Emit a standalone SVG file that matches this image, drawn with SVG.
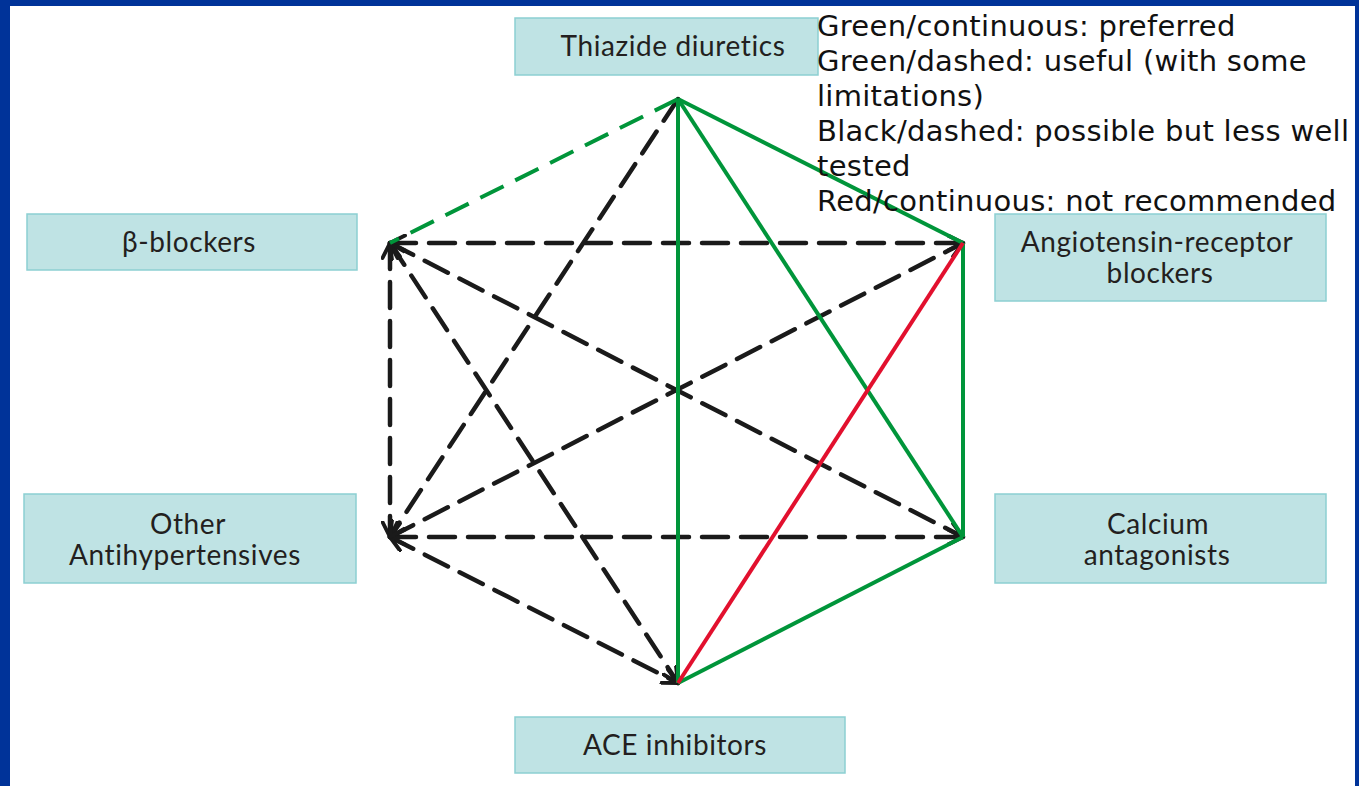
<svg xmlns="http://www.w3.org/2000/svg" width="1359" height="786" viewBox="0 0 1359 786">
<style>
.box{fill:#bfe3e4;stroke:#8ccfd2;stroke-width:1.5}
.lbl{font-family:Lato,"Liberation Sans",sans-serif;font-size:28px;letter-spacing:0.6px;fill:#231f20;text-anchor:middle}
.leg{font-family:"DejaVu Sans",Verdana,sans-serif;font-size:29px;letter-spacing:0.3px;fill:#111}
.gs{stroke:#00953a;stroke-width:4;fill:none}
.gd{stroke:#00953a;stroke-width:4;fill:none;stroke-dasharray:26 13}
.rs{stroke:#e2102e;stroke-width:4;fill:none}
.bd{stroke:#1a1a1a;stroke-width:4.5;fill:none;stroke-dasharray:26 13;stroke-linecap:round}
</style>
<defs>
<marker id="ah" viewBox="0 0 12 12" refX="11" refY="6" markerWidth="4" markerHeight="4" orient="auto-start-reverse" markerUnits="strokeWidth">
<path d="M1,1 L11,6 L1,11" fill="none" stroke="#1a1a1a" stroke-width="2.6" stroke-linecap="round" stroke-linejoin="round"/>
</marker>
</defs>
<rect x="0" y="0" width="1359" height="786" fill="#ffffff"/>
<rect x="0" y="0" width="1359" height="6" fill="#003399"/>
<rect x="0" y="0" width="10" height="786" fill="#003399"/>
<rect x="1355" y="0" width="4" height="786" fill="#003399"/>
<g id="connectors">
<line class="bd" x1="390" y1="243" x2="963" y2="243" marker-start="url(#ah)" marker-end="url(#ah)"/>
<line class="bd" x1="390" y1="243" x2="390" y2="537" marker-start="url(#ah)" marker-end="url(#ah)"/>
<line class="bd" x1="390" y1="243" x2="963" y2="537" marker-start="url(#ah)" marker-end="url(#ah)"/>
<line class="bd" x1="390" y1="243" x2="678" y2="683" marker-start="url(#ah)" marker-end="url(#ah)"/>
<line class="bd" x1="390" y1="537" x2="963" y2="243" marker-start="url(#ah)" marker-end="url(#ah)"/>
<line class="bd" x1="390" y1="537" x2="963" y2="537" marker-start="url(#ah)" marker-end="url(#ah)"/>
<line class="bd" x1="390" y1="537" x2="678" y2="683" marker-start="url(#ah)" marker-end="url(#ah)"/>
<line class="bd" x1="678" y1="99" x2="390" y2="537" marker-end="url(#ah)"/>
<line class="gd" x1="678" y1="99" x2="390" y2="243"/>
<line class="gs" x1="678" y1="99" x2="678" y2="683"/>
<line class="gs" x1="678" y1="99" x2="963" y2="243"/>
<line class="gs" x1="678" y1="99" x2="963" y2="537"/>
<line class="gs" x1="963" y1="243" x2="963" y2="537"/>
<line class="gs" x1="963" y1="537" x2="678" y2="683"/>
<line class="rs" x1="963" y1="243" x2="678" y2="683"/>
</g>
<g id="thiazide">
<rect class="box" x="515" y="18" width="303" height="57"/>
<text class="lbl" x="673" y="56">Thiazide diuretics</text>
</g>
<g id="beta-blockers">
<rect class="box" x="27" y="214" width="330" height="56"/>
<text class="lbl" x="189" y="252">β-blockers</text>
</g>
<g id="arb">
<rect class="box" x="995" y="214" width="331" height="87"/>
<text class="lbl" x="1157" y="252">Angiotensin-receptor</text>
<text class="lbl" x="1160" y="283">blockers</text>
</g>
<g id="other">
<rect class="box" x="24" y="494" width="332" height="89"/>
<text class="lbl" x="188" y="534">Other</text>
<text class="lbl" x="185" y="565">Antihypertensives</text>
</g>
<g id="calcium">
<rect class="box" x="995" y="494" width="331" height="89"/>
<text class="lbl" x="1158" y="534">Calcium</text>
<text class="lbl" x="1157" y="565">antagonists</text>
</g>
<g id="ace">
<rect class="box" x="515" y="717" width="330" height="56"/>
<text class="lbl" x="675" y="755">ACE inhibitors</text>
</g>
<g id="legend">
<text class="leg" x="817" y="36">Green/continuous: preferred</text>
<text class="leg" x="817" y="71">Green/dashed: useful (with some</text>
<text class="leg" x="817" y="106">limitations)</text>
<text class="leg" x="817" y="141">Black/dashed: possible but less well</text>
<text class="leg" x="817" y="176">tested</text>
<text class="leg" x="817" y="211">Red/continuous: not recommended</text>
</g>
</svg>
